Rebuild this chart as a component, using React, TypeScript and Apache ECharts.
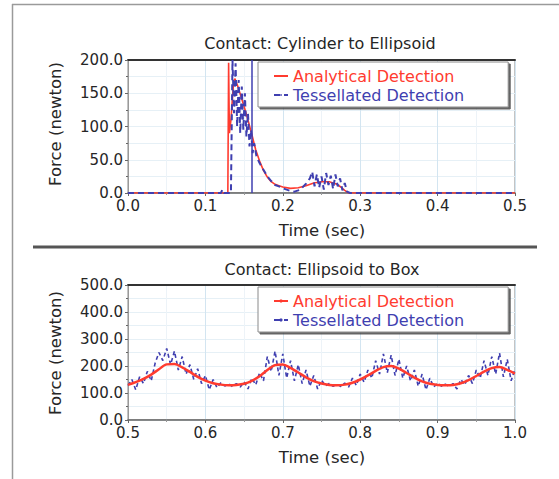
import React, { useEffect, useRef } from "react";
import * as echarts from "echarts";

// ---------- data ----------
const seriesNames = ["Analytical Detection", "Tessellated Detection"];
const titles = ["Contact: Cylinder to Ellipsoid", "Contact: Ellipsoid to Box"];
const xAxisName = "Time (sec)";
const yAxisName = "Force (newton)";

const topXTicks = { min: 0, max: 0.5, interval: 0.1 };
const topYTicks = { min: 0, max: 200, interval: 50 };
const botXTicks = { min: 0.5, max: 1.0, interval: 0.1 };
const botYTicks = { min: 0, max: 500, interval: 100 };

const topMarkerTime = [0.16];

const topAnalytical: [number, number][] = [
  [0, 0], [0.129, 0], [0.13, 196], [0.131, 90], [0.133, 110], [0.136, 160],
  [0.138, 172], [0.142, 160], [0.146, 145], [0.15, 130], [0.155, 110],
  [0.16, 88], [0.165, 65], [0.17, 48], [0.175, 34], [0.18, 24], [0.185, 17],
  [0.19, 13], [0.195, 11], [0.2, 9], [0.21, 7], [0.22, 8], [0.23, 11],
  [0.24, 15], [0.25, 17], [0.26, 17], [0.27, 13], [0.275, 9], [0.28, 4],
  [0.285, 0], [0.5, 0],
];

const topTessellated: [number, number][] = [
  [0, 0], [0.12, 0], [0.122, 5], [0.124, 0], [0.133, 0], [0.135, 200],
  [0.137, 120], [0.139, 195], [0.141, 100], [0.143, 170], [0.145, 90],
  [0.147, 160], [0.149, 95], [0.151, 150], [0.153, 85], [0.155, 120],
  [0.157, 70], [0.159, 95], [0.161, 60], [0.163, 75], [0.166, 55],
  [0.17, 45], [0.175, 35], [0.18, 25], [0.185, 18], [0.19, 12], [0.195, 10],
  [0.2, 7], [0.205, 5], [0.21, 3], [0.215, 2], [0.22, 4], [0.225, 8],
  [0.23, 14], [0.235, 22], [0.238, 32], [0.241, 10], [0.244, 28],
  [0.247, 8], [0.25, 25], [0.253, 5], [0.256, 30], [0.259, 12], [0.262, 26],
  [0.265, 6], [0.268, 28], [0.271, 10], [0.274, 22], [0.277, 4], [0.28, 15],
  [0.283, 2], [0.287, 0], [0.5, 0],
];

const botAnalytical: [number, number][] = [
  [0.5, 130], [0.51, 140], [0.52, 152], [0.53, 168], [0.54, 188], [0.55, 206],
  [0.56, 207], [0.57, 195], [0.58, 178], [0.59, 160], [0.6, 146], [0.61, 136],
  [0.62, 131], [0.63, 129], [0.64, 130], [0.65, 134], [0.66, 145], [0.67, 162],
  [0.68, 185], [0.69, 203], [0.7, 206], [0.71, 193], [0.72, 176], [0.73, 158],
  [0.74, 144], [0.75, 135], [0.76, 130], [0.77, 129], [0.78, 131], [0.79, 138],
  [0.8, 150], [0.81, 165], [0.82, 182], [0.83, 196], [0.84, 200], [0.85, 190],
  [0.86, 174], [0.87, 157], [0.88, 143], [0.89, 134], [0.9, 130], [0.91, 129],
  [0.92, 130], [0.93, 136], [0.94, 148], [0.95, 163], [0.96, 179], [0.97, 192],
  [0.98, 196], [0.99, 186], [1.0, 172],
];

const botTessellated: [number, number][] = [
  [0.5, 128], [0.505, 150], [0.51, 112], [0.515, 160], [0.52, 135], [0.525, 180],
  [0.53, 145], [0.535, 210], [0.54, 250], [0.545, 220], [0.55, 265], [0.555, 205],
  [0.56, 255], [0.565, 185], [0.57, 235], [0.575, 170], [0.58, 205], [0.585, 150],
  [0.59, 190], [0.595, 135], [0.6, 165], [0.605, 112], [0.61, 150], [0.615, 120],
  [0.62, 138], [0.625, 126], [0.63, 134], [0.635, 124], [0.64, 135], [0.645, 122],
  [0.65, 142], [0.655, 115], [0.66, 155], [0.665, 130], [0.67, 175], [0.675, 145],
  [0.68, 235], [0.685, 180], [0.69, 255], [0.695, 165], [0.7, 245], [0.705, 155],
  [0.71, 220], [0.715, 145], [0.72, 205], [0.725, 135], [0.73, 185], [0.735, 125],
  [0.74, 165], [0.745, 115], [0.75, 148], [0.755, 126], [0.76, 135], [0.765, 125],
  [0.77, 133], [0.775, 124], [0.78, 137], [0.785, 122], [0.79, 155], [0.795, 128],
  [0.8, 170], [0.805, 140], [0.81, 185], [0.815, 155], [0.82, 220], [0.825, 170],
  [0.83, 245], [0.835, 175], [0.84, 240], [0.845, 165], [0.85, 225], [0.855, 155],
  [0.86, 200], [0.865, 145], [0.87, 185], [0.875, 125], [0.88, 170], [0.885, 112],
  [0.89, 155], [0.895, 122], [0.9, 137], [0.905, 125], [0.91, 133], [0.915, 124],
  [0.92, 135], [0.925, 115], [0.93, 150], [0.935, 130], [0.94, 165], [0.945, 135],
  [0.95, 185], [0.955, 155], [0.96, 220], [0.965, 165], [0.97, 235], [0.975, 170],
  [0.98, 248], [0.985, 160], [0.99, 225], [0.995, 145], [1.0, 190],
];

// ---------- styling ----------
const RED = "#ff3b2f";
const BLUE = "#3f3fb0";
const FONT = "DejaVu Sans";
const TXT = "#262626";

const grids = [
  { left: 128, top: 60, width: 387, height: 133 },
  { left: 128, top: 285, width: 387, height: 135 },
];

function xAxisFor(gridIndex: number, t: { min: number; max: number; interval: number }) {
  return {
    type: "value",
    gridIndex,
    min: t.min,
    max: t.max,
    interval: t.interval,
    axisLine: { show: true, onZero: false, lineStyle: { color: "#666", width: 1.5 } },
    axisTick: { show: true, length: 3, lineStyle: { color: "#666" } },
    minorTick: { show: true, splitNumber: 2, length: 2, lineStyle: { color: "#999" } },
    axisLabel: {
      margin: 5,
      fontFamily: FONT,
      fontSize: 15,
      color: TXT,
      formatter: (v: number) => v.toFixed(1),
    },
    splitLine: { show: true, lineStyle: { color: "#d3e5f1", width: 1 } },
    minorSplitLine: { show: true, lineStyle: { color: "#edf3f8", width: 1 } },
  };
}

function topFrameAxis(gridIndex: number, t: { min: number; max: number; interval: number }) {
  return {
    type: "value",
    gridIndex,
    position: "top",
    min: t.min,
    max: t.max,
    interval: t.interval,
    axisLine: { show: true, onZero: false, lineStyle: { color: "#333", width: 2 } },
    axisTick: { show: false },
    axisLabel: { show: false },
    splitLine: { show: false },
  };
}

function yAxisFor(gridIndex: number, t: { min: number; max: number; interval: number }) {
  return {
    type: "value",
    gridIndex,
    min: t.min,
    max: t.max,
    interval: t.interval,
    axisLine: { show: true, onZero: false, lineStyle: { color: "#999", width: 1 } },
    axisTick: { show: true, length: 3, lineStyle: { color: "#666" } },
    minorTick: { show: true, splitNumber: 2, length: 2, lineStyle: { color: "#666" } },
    axisLabel: {
      margin: 5,
      fontFamily: FONT,
      fontSize: 15,
      color: TXT,
      formatter: (v: number) => v.toFixed(1),
    },
    splitLine: { show: true, lineStyle: { color: "#e6f0f6", width: 1 } },
    minorSplitLine: { show: true, lineStyle: { color: "#e6f0f6", width: 1 } },
  };
}

function legendFor(top: number, thickRed: boolean) {
  return {
    orient: "vertical",
    left: 258,
    top,
    itemWidth: 14,
    itemHeight: thickRed ? 4 : 2,
    itemGap: 3,
    padding: [6, 44, 4, 15],
    backgroundColor: "#fff",
    borderColor: "#8a8a8a",
    borderWidth: 1,
    borderRadius: 0,
    shadowColor: "rgba(60,60,60,0.8)",
    shadowBlur: 0,
    shadowOffsetX: 2,
    shadowOffsetY: 2,
    textStyle: { fontFamily: FONT, fontSize: 16 },
    data: [
      { name: seriesNames[0], textStyle: { color: RED } },
      { name: seriesNames[1], textStyle: { color: BLUE } },
    ],
    selectedMode: false,
  };
}

export default function App() {
  const ref = useRef<HTMLDivElement>(null);

  useEffect(() => {
    if (!ref.current) return;
    const chart = echarts.init(ref.current, undefined, { renderer: "svg" });

    const option: any = {
      animation: false,
      backgroundColor: "#fff",
      grid: grids.map((g) => ({
        ...g,
        show: true,
        borderColor: "#888",
        borderWidth: 1,
        backgroundColor: "transparent",
        containLabel: false,
      })),
      xAxis: [
        xAxisFor(0, topXTicks),
        xAxisFor(1, botXTicks),
        topFrameAxis(0, topXTicks),
        topFrameAxis(1, botXTicks),
      ],
      yAxis: [yAxisFor(0, topYTicks), yAxisFor(1, botYTicks)],
      legend: [legendFor(62, false), legendFor(287, true)],
      series: [
        {
          name: seriesNames[0],
          type: "line",
          xAxisIndex: 0,
          yAxisIndex: 0,
          data: topAnalytical,
          symbol: "none",
          lineStyle: { color: RED, width: 1.6 },
          itemStyle: { color: RED },
          z: 2,
        },
        {
          name: seriesNames[1],
          type: "line",
          xAxisIndex: 0,
          yAxisIndex: 0,
          data: topTessellated,
          symbol: "none",
          lineStyle: { color: BLUE, width: 2, type: [6, 4] },
          itemStyle: { color: BLUE },
          z: 3,
          markLine: {
            silent: true,
            symbol: "none",
            label: { show: false },
            lineStyle: { color: BLUE, width: 1.5, type: "solid" },
            data: topMarkerTime.map((t) => ({ xAxis: t })),
          },
        },
        {
          name: seriesNames[1],
          type: "line",
          xAxisIndex: 1,
          yAxisIndex: 1,
          data: botTessellated,
          symbol: "none",
          lineStyle: { color: BLUE, width: 1.6, type: [4, 3] },
          itemStyle: { color: BLUE },
          z: 2,
        },
        {
          name: seriesNames[0],
          type: "line",
          xAxisIndex: 1,
          yAxisIndex: 1,
          data: botAnalytical,
          symbol: "none",
          smooth: 0.3,
          lineStyle: { color: RED, width: 2.5 },
          itemStyle: { color: RED },
          z: 3,
        },
      ],
      graphic: [
        // outer frame
        { type: "line", shape: { x1: 12, y1: 4.5, x2: 559, y2: 4.5 }, style: { stroke: "#9a9a9a", lineWidth: 1.5 } },
        { type: "line", shape: { x1: 12.5, y1: 4, x2: 12.5, y2: 479 }, style: { stroke: "#9a9a9a", lineWidth: 1.5 } },
        // separator
        { type: "line", shape: { x1: 33, y1: 247, x2: 537, y2: 247 }, style: { stroke: "#555", lineWidth: 3 } },
        // titles
        {
          type: "text",
          x: 320,
          y: 43,
          style: { text: titles[0], fontFamily: FONT, fontSize: 16, fill: TXT, align: "center", verticalAlign: "middle" },
        },
        {
          type: "text",
          x: 322,
          y: 269,
          style: { text: titles[1], fontFamily: FONT, fontSize: 16, fill: TXT, align: "center", verticalAlign: "middle" },
        },
        // x-axis names
        {
          type: "text",
          x: 322,
          y: 230,
          style: { text: xAxisName, fontFamily: FONT, fontSize: 16.5, fill: TXT, align: "center", verticalAlign: "middle" },
        },
        {
          type: "text",
          x: 322,
          y: 457,
          style: { text: xAxisName, fontFamily: FONT, fontSize: 16.5, fill: TXT, align: "center", verticalAlign: "middle" },
        },
        // y-axis names
        {
          type: "text",
          x: 55,
          y: 124,
          rotation: Math.PI / 2,
          style: { text: yAxisName, fontFamily: FONT, fontSize: 16.5, fill: TXT, align: "center", verticalAlign: "middle" },
        },
        {
          type: "text",
          x: 55,
          y: 353,
          rotation: Math.PI / 2,
          style: { text: yAxisName, fontFamily: FONT, fontSize: 16.5, fill: TXT, align: "center", verticalAlign: "middle" },
        },
      ],
    };

    chart.setOption(option);
    return () => chart.dispose();
  }, []);

  return (
    <div
      ref={ref}
      style={{ position: "absolute", left: 0, top: 0, width: 559, height: 479 }}
    />
  );
}
